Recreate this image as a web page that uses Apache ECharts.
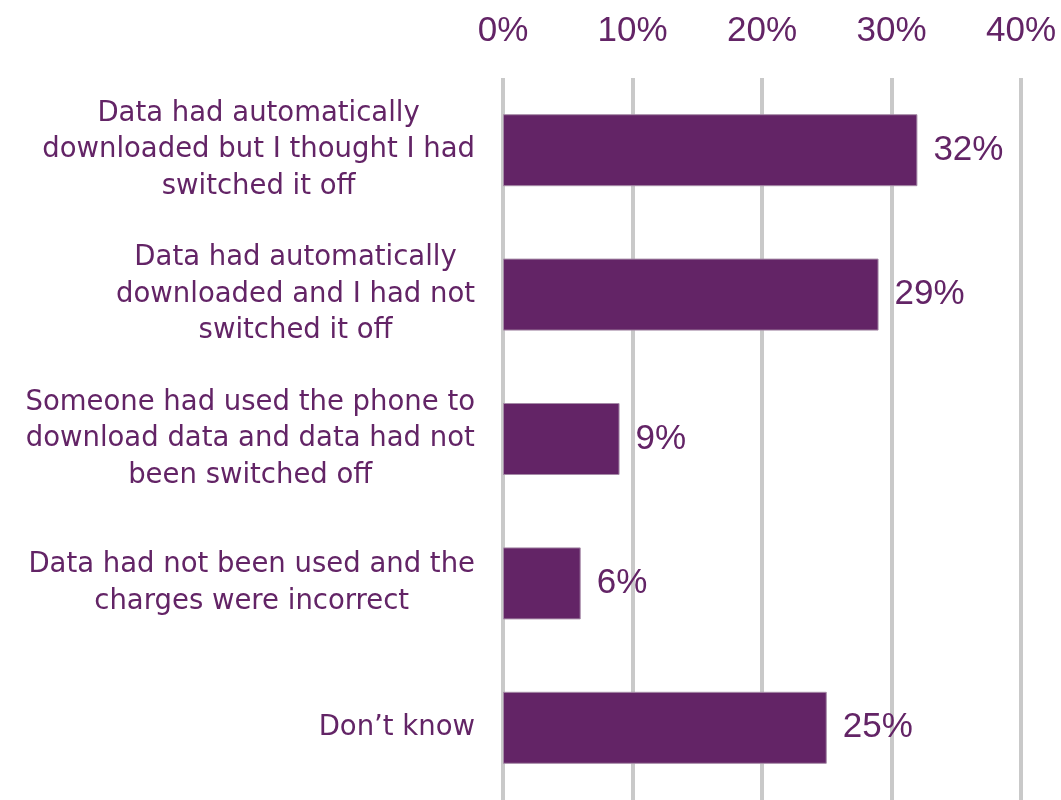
<!DOCTYPE html>
<html>
<head>
<meta charset="utf-8">
<style>
  html, body { margin: 0; padding: 0; background: #ffffff; }
  #chart { width: 1061px; height: 800px; }
</style>
<script src="https://cdn.jsdelivr.net/npm/echarts@6/dist/echarts.min.js"></script>
</head>
<body>
<div id="chart"></div>
<script>
// Reasons given for unexpected data charges
const categories = [
  'Data had automatically\ndownloaded but I thought I had\nswitched it off',
  'Data had automatically\ndownloaded and I had not\nswitched it off',
  'Someone had used the phone to\ndownload data and data had not\nbeen switched off',
  'Data had not been used and the\ncharges were incorrect',
  'Don\u2019t know'
];
const shares = [32, 29, 9, 6, 25];
const axisTicks = [0, 10, 20, 30, 40];

const purple = '#632466';
const numFont = '"Liberation Sans", Arial, sans-serif';
const textFont = '"DejaVu Sans", "Liberation Sans", Arial, sans-serif';

const chart = echarts.init(document.getElementById('chart'));
chart.setOption({
  backgroundColor: '#ffffff',
  animation: false,
  grid: { left: 503, right: 40, top: 78, bottom: 0, containLabel: false },
  xAxis: {
    type: 'value',
    position: 'top',
    min: axisTicks[0],
    max: axisTicks[axisTicks.length - 1],
    interval: axisTicks[1] - axisTicks[0],
    axisLine: { show: false },
    axisTick: { show: false },
    axisLabel: {
      formatter: '{value}%',
      color: purple,
      fontFamily: numFont,
      fontSize: 35,
      margin: 29
    },
    splitLine: { show: true, lineStyle: { color: '#c9c9c9', width: 4 } }
  },
  yAxis: {
    type: 'category',
    data: categories,
    inverse: true,
    axisLine: { show: false },
    axisTick: { show: false },
    axisLabel: {
      margin: 28,
      formatter: function (v) {
        return v.split('\n').map(function (line) { return '{c|' + line + '}'; }).join('\n');
      },
      rich: {
        c: {
          align: 'center',
          color: purple,
          fontFamily: textFont,
          fontSize: 27.5,
          lineHeight: 36.5
        }
      }
    }
  },
  series: [{
    type: 'bar',
    data: shares,
    barWidth: 72,
    itemStyle: { color: purple, borderColor: '#a58aa7', borderWidth: 1 },
    label: {
      show: true,
      position: 'right',
      distance: 16,
      formatter: '{c}%',
      color: purple,
      fontFamily: numFont,
      fontSize: 35
    }
  }]
});
</script>
</body>
</html>
